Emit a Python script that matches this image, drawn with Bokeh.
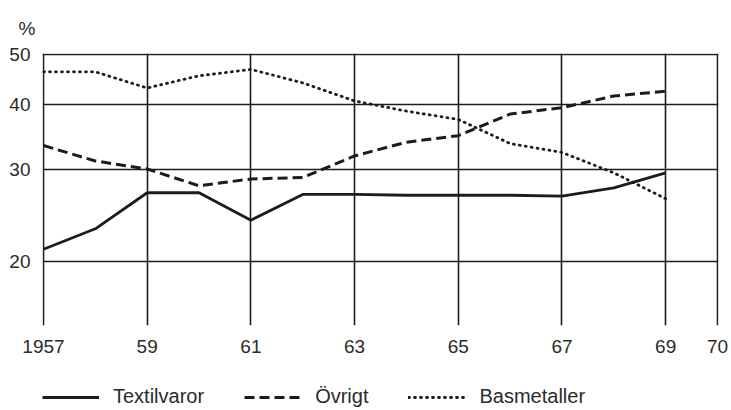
from bokeh.plotting import figure
from bokeh.layouts import column
from bokeh.models import FixedTicker, NumeralTickFormatter, Range1d, Legend, LegendItem
from bokeh.embed import file_html
from bokeh.resources import INLINE

years = [1957, 1958, 1959, 1960, 1961, 1962, 1963, 1964, 1965, 1966, 1967, 1968, 1969]
textilvaror = [21.1, 23.1, 27.1, 27.1, 24.0, 26.9, 26.9, 26.8, 26.8, 26.8, 26.7, 27.7, 29.6]
ovrigt = [33.4, 31.2, 30.1, 27.95, 28.8, 29.0, 31.9, 33.9, 34.9, 38.4, 39.5, 41.6, 42.5]
basmetaller = [46.3, 46.3, 43.1, 45.5, 46.8, 44.1, 40.7, 38.9, 37.5, 33.7, 32.4, 29.6, 26.4]

x_ticks = [1957, 1959, 1961, 1963, 1965, 1967, 1969, 1970]
x_labels = ["1957", "59", "61", "63", "65", "67", "69", "70"]
y_ticks = [20, 30, 40, 50]
series_names = ["Textilvaror", "Övrigt", "Basmetaller"]

FONT = "Liberation Sans"
TXT = "#2b2b2b"
INK = "#1c1c1c"

styles = [dict(line_color=INK, line_width=2.8),
          dict(line_color=INK, line_width=3, line_dash="10 5"),
          dict(line_color=INK, line_width=2.8, line_dash="1 5", line_cap="round")]
series = [textilvaror, ovrigt, basmetaller]

p = figure(width=728, height=362, y_axis_type="log",
           output_backend="svg", toolbar_location=None,
           title="%",
           x_range=Range1d(1957 - 1 / 51.9, 1970 + 1 / 51.9),
           y_range=Range1d(15.05, 50.22),
           min_border_left=42, min_border_right=10, min_border_top=52, min_border_bottom=37)
p.outline_line_color = None
p.background_fill_color = "white"
p.border_fill_color = "white"

p.title.text_font = FONT
p.title.text_font_size = "19px"
p.title.text_font_style = "normal"
p.title.text_color = TXT
p.title.align = "left"
p.title.offset = -24
p.title.standoff = 30

xt = FixedTicker(ticks=x_ticks)
yt = FixedTicker(ticks=y_ticks)
p.xaxis.ticker = xt
p.yaxis.ticker = yt
p.xgrid.ticker = xt
p.ygrid.ticker = yt
p.xaxis.major_label_overrides = {t: l for t, l in zip(x_ticks, x_labels)}
p.yaxis.formatter = NumeralTickFormatter(format="0")
for ax in (p.xaxis, p.yaxis):
    ax.axis_line_color = None
    ax.major_tick_line_color = None
    ax.minor_tick_line_color = None
    ax.major_label_text_font = FONT
    ax.major_label_text_font_size = "19px"
    ax.major_label_text_color = TXT
p.xaxis.major_label_standoff = 8
p.yaxis.major_label_standoff = 6

for g in (p.xgrid, p.ygrid):
    g.grid_line_color = INK
    g.grid_line_width = 1.6
    g.grid_line_alpha = 1.0
p.ygrid.minor_grid_line_color = None

for vals, st in zip(series, styles):
    p.line(years, vals, **st)

# legend strip below the chart (same series, plotted outside its view so only the key shows)
p2 = figure(width=728, height=46, output_backend="svg", toolbar_location=None,
            x_range=Range1d(0, 1), y_range=Range1d(0, 1),
            x_axis_location=None, y_axis_location=None,
            min_border_left=0, min_border_right=0, min_border_top=0, min_border_bottom=0)
p2.outline_line_color = None
p2.grid.visible = False
items = []
for name, vals, st in zip(series_names, series, styles):
    r = p2.line(years, vals, **st)
    items.append(LegendItem(label=name, renderers=[r]))
lg = Legend(items=items, location=(0, 0), orientation="horizontal",
            border_line_color=None, background_fill_alpha=0, padding=0, margin=0,
            glyph_width=57, glyph_height=14, label_height=14, label_standoff=14, spacing=40,
            label_text_font=FONT, label_text_font_size="20px", label_text_color=TXT)
p2.add_layout(lg, "center")

layout = column(p, p2, spacing=0)
open("out.html", "w").write(file_html(layout, INLINE))
